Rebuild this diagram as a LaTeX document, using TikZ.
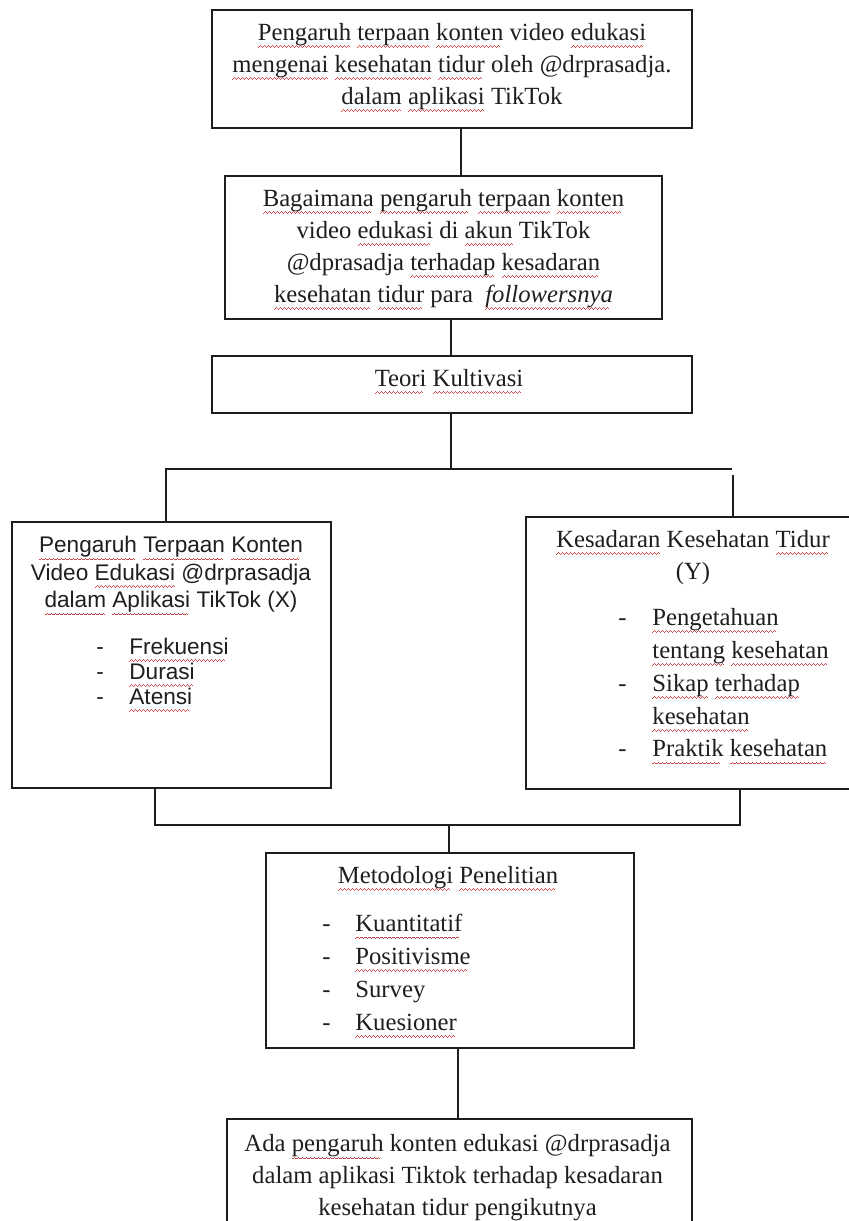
\documentclass[tikz,border=0pt]{standalone}
\usepackage{fontspec}
\setmainfont{Liberation Serif}
\newfontfamily\arialfont{Liberation Sans}
\usepackage{xcolor}
\definecolor{sqred}{RGB}{215,70,70}
\definecolor{ink}{RGB}{30,30,30}
\newsavebox\sqbox
\newcommand\sqpat{\hbox{\rule[-3.7pt]{0.5pt}{0.45pt}\rule[-3.25pt]{0.5pt}{0.45pt}\rule[-2.8pt]{0.5pt}{0.45pt}\rule[-3.25pt]{0.5pt}{0.45pt}}}
\newcommand\sq[1]{\sbox\sqbox{#1}\leavevmode\rlap{\hbox to \wd\sqbox{\color{sqred}\leaders\sqpat\hfill}}\usebox\sqbox}
\begin{document}
\begin{tikzpicture}[x=0.5pt,y=-0.5pt,
  box/.style={draw=ink,line width=0.85pt,rectangle,inner sep=0pt},
  conn/.style={draw=ink,line width=0.8pt},
  tm/.style={text=ink,inner sep=0pt,align=center,font=\fontsize{12.35}{16}\selectfont},
  tmlist/.style={text=ink,inner sep=0pt,align=left,anchor=west,font=\fontsize{12.35}{16.4}\selectfont},
  ar/.style={text=ink,inner sep=0pt,align=center,font=\arialfont\fontsize{11.3}{13.75}\selectfont},
  arlist/.style={text=ink,inner sep=0pt,align=left,anchor=west,font=\arialfont\fontsize{11.3}{12.5}\selectfont}]
\useasboundingbox (0,0) rectangle (849,1221);
\clip (0,0) rectangle (849,1221);
% boxes
\node[box,minimum width=240pt,minimum height=59pt] (b1) at (452,69) {};
\node[box,minimum width=218.5pt,minimum height=71.5pt] (b2) at (443.5,247.5) {};
\node[box,minimum width=240pt,minimum height=28.5pt] (teori) at (452,384.5) {};
\node[box,minimum width=159.5pt,minimum height=133pt] (left) at (171.5,655) {};
\node[box,minimum width=177pt,minimum height=136pt] (right) at (703,653) {};
\node[box,minimum width=184pt,minimum height=97.5pt] (meth) at (450,950.5) {};
\node[box,minimum width=232.5pt,minimum height=65.5pt] (concl) at (459.5,1184.5) {};
% texts
\node[tm] (t1) at (452,67.5) {\sq{Pengaruh} \sq{terpaan} \sq{konten} video \sq{edukasi}\\ \sq{mengenai} \sq{kesehatan} \sq{tidur} oleh @drprasadja.\\ \sq{dalam} \sq{aplikasi} TikTok};
\node[tm] (t2) at (443.5,249.5) {\sq{Bagaimana} \sq{pengaruh} \sq{terpaan} \sq{konten}\\ video \sq{edukasi} di \sq{akun} TikTok\\ @dprasadja \sq{terhadap} \sq{kesadaran}\\ \sq{kesehatan} \sq{tidur} para~ \textit{\sq{followersnya}}};
\node[tm] (t3) at (449,381.5) {\sq{Teori} \sq{Kultivasi}};
\node[ar] (t4) at (171,576) {\sq{Pengaruh} \sq{Terpaan} \sq{Konten}\\ Video \sq{Edukasi} @drprasadja\\ \sq{dalam} \sq{Aplikasi} TikTok (X)};
\node[arlist] (t5) at (96,675) {\makebox[16.5pt][l]{-}\sq{Frekuensi}\\ \makebox[16.5pt][l]{-}\sq{Durasi}\\ \makebox[16.5pt][l]{-}\sq{Atensi}};
\node[tm] (t6) at (693,557.5) {\sq{Kesadaran} Kesehatan \sq{Tidur}\\ (Y)};
\node[tmlist] (t7) at (618,686.5) {\makebox[17pt][l]{-}\sq{Pengetahuan}\\ \hspace*{17pt}\sq{tentang} \sq{kesehatan}\\ \makebox[17pt][l]{-}\sq{Sikap} \sq{terhadap}\\ \hspace*{17pt}\sq{kesehatan}\\ \makebox[17pt][l]{-}\sq{Praktik} \sq{kesehatan}};
\node[tm] (t8) at (448,878.5) {\sq{Metodologi} \sq{Penelitian}};
\node[tmlist] (t9) at (322,976) {\makebox[16.5pt][l]{-}\sq{Kuantitatif}\\ \makebox[16.5pt][l]{-}\sq{Positivisme}\\ \makebox[16.5pt][l]{-}Survey\\ \makebox[16.5pt][l]{-}\sq{Kuesioner}};
\node[tm] (t10) at (457.5,1178) {Ada \sq{pengaruh} konten edukasi @drprasadja\\ dalam aplikasi Tiktok terhadap kesadaran\\ kesehatan tidur pengikutnya};
% connector coordinates
\coordinate (c1) at (461,0);
\coordinate (c2) at (451,0);
\coordinate (jT) at (451,469);
\coordinate (jL) at (166,469);
\coordinate (jR) at (732,469);
\coordinate (jR2) at (733,475);
\coordinate (kL) at (155,825);
\coordinate (kR) at (740,825);
\coordinate (kM) at (449,825);
\coordinate (m2) at (458,0);
% connectors
\draw[conn] (b1.south -| c1) -- (b2.north -| c1);
\draw[conn] (b2.south -| c2) -- (teori.north -| c2);
\draw[conn] (teori.south -| jT) -- (jT);
\draw[conn] (left.north -| jL) -- (jL) -- (jR);
\draw[conn] (jR2) -- (right.north -| jR2);
\draw[conn] (left.south -| kL) -- (kL) -- (kR) -- (right.south -| kR);
\draw[conn] (kM) -- (meth.north -| kM);
\draw[conn] (meth.south -| m2) -- (concl.north -| m2);
\end{tikzpicture}
\end{document}
